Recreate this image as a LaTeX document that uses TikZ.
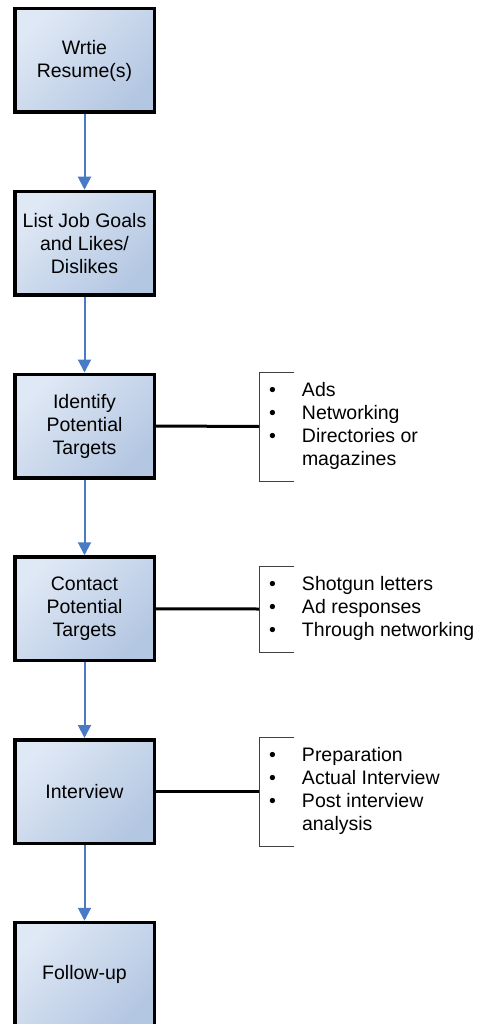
\documentclass[tikz,border=0pt]{standalone}
\usepackage{fontspec}
\setmainfont{Liberation Sans}
\usetikzlibrary{arrows.meta}

\definecolor{boxlight}{RGB}{223,232,245}
\definecolor{boxdark}{RGB}{180,199,226}
\definecolor{flowblue}{RGB}{72,122,198}

% bullet followed by the indent of a list entry
\newcommand\listmark{\makebox[43pt][l]{\hspace*{10pt}\textbullet}}
\newcommand\listgap{\makebox[43pt]{}}

\begin{document}
\begin{tikzpicture}[x=1pt,y=-1pt,
  stepbox/.style={draw=black, line width=3.5pt, minimum width=139.5pt,
    minimum height=103.5pt, top color=boxlight, bottom color=boxdark,
    shading angle=45, align=center, inner sep=0pt,
    font=\fontsize{19.5}{23}\selectfont},
  flow/.style={draw=flowblue, line width=2pt,
    -{Triangle[width=13pt,length=13pt]}},
  link/.style={draw=black, line width=3pt},
  notes/.style={anchor=west, align=left, inner xsep=0pt, inner ysep=8.5pt,
    outer sep=0pt, font=\fontsize{19.5}{23}\selectfont},
  bracket/.style={draw=black!75, line width=1pt}]

\path[use as bounding box] (0,0) rectangle (476,1024);
\clip (0,0) rectangle (476,1024);

% process steps
\node[stepbox] (s1) at (84.5,60.5)   {Wrtie\\Resume(s)};
\node[stepbox] (s2) at (84.5,243.25) {List Job Goals\\and Likes/\\Dislikes};
\node[stepbox] (s3) at (84.5,426)    {Identify\\Potential\\Targets};
\node[stepbox] (s4) at (84.5,608.75) {Contact\\Potential\\Targets};
\node[stepbox] (s5) at (84.5,791.5)  {Interview};
\node[stepbox] (s6) at (84.5,974.25) {Follow-up};

\draw[flow] (s1) -- (s2);
\draw[flow] (s2) -- (s3);
\draw[flow] (s3) -- (s4);
\draw[flow] (s4) -- (s5);
\draw[flow] (s5) -- (s6);

% side notes
\node[notes] (n3) at (259,426.5) {\strut\listmark Ads\\
  \strut\listmark Networking\\
  \strut\listmark Directories or\\
  \strut\listgap magazines};
\node[notes] (n4) at (259,609) {\strut\listmark Shotgun letters\\
  \strut\listmark Ad responses\\
  \strut\listmark Through networking};
\node[notes] (n5) at (259,791.5) {\strut\listmark Preparation\\
  \strut\listmark Actual Interview\\
  \strut\listmark Post interview\\
  \strut\listgap analysis};

\foreach \n in {n3,n4,n5}{
  \draw[bracket] ([xshift=35pt]\n.north west) -- (\n.north west)
    -- (\n.south west) -- ([xshift=35pt]\n.south west);
}

\draw[link] (s3.east) -- (n3.west);
\draw[link] (s4.east) -- (n4.west);
\draw[link] (s5.east) -- (n5.west);
\end{tikzpicture}
\end{document}
